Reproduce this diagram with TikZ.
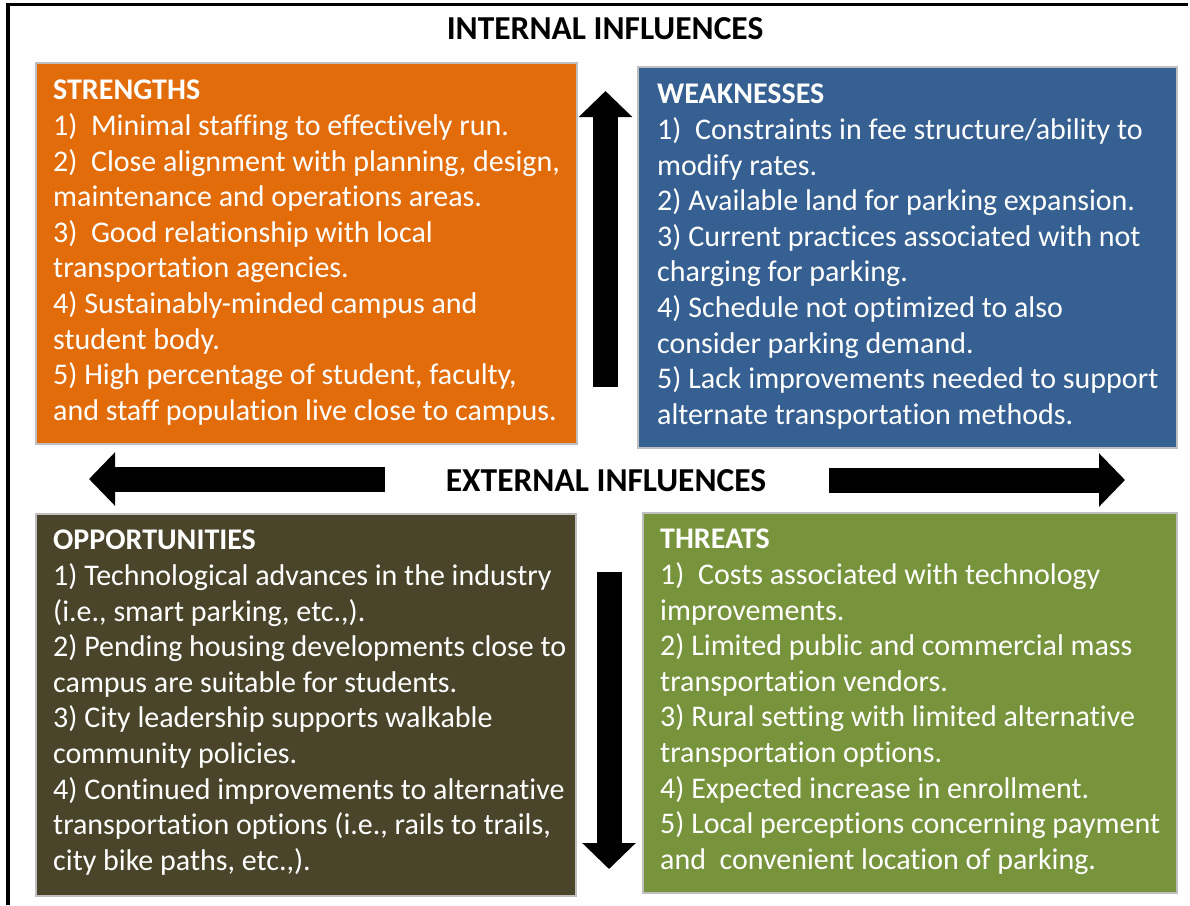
\documentclass[tikz,border=0pt]{standalone}
\usepackage{fontspec}
\setmainfont[Ligatures={TeX,NoCommon}]{Carlito}
\usepackage{xcolor}
\usepackage{tikz}
\usetikzlibrary{positioning,calc,arrows.meta}

\definecolor{swotorange}{HTML}{E36C0A}
\definecolor{swotblue}{HTML}{366092}
\definecolor{swotolive}{HTML}{4A452A}
\definecolor{swotgreen}{HTML}{77933C}
\definecolor{swotedge}{HTML}{BFBFBF}

\begin{document}
\begin{tikzpicture}[
                x=1pt, y=-1pt,
                quad_box/.style={draw=swotedge, line width=2pt, anchor=north west, inner sep=0pt},
                item_text/.style={anchor=north west, inner sep=0pt, align=left, text=white,
                    font={\fontsize{30}{35.6}\selectfont}},
                title_text/.style={font={\fontsize{33.5}{40}\selectfont\bfseries}},
                big_arrow/.style={draw=black, line width=25pt, -{Triangle[length=26pt,width=52pt]}}
            ]
                \useasboundingbox (0,0) rectangle (1190,905);

                % --- FRAME ---
                \draw[line width=3.5pt] (8,905) -- (8,4.5) -- (1188,4.5);

                % --- HEADINGS ---
                \node[title_text] (internal) at (605,29) {INTERNAL INFLUENCES};
                \node[title_text] (external) at (606,481) {EXTERNAL INFLUENCES};

                % --- STRENGTHS ---
                \node[quad_box, fill=swotorange, minimum width=541pt, minimum height=381pt] (strengths) at (35,62) {};
                \node[item_text] (strengths_text) at ([xshift=18pt, yshift=-18pt]strengths.north west)
                    {\textbf{STRENGTHS}\\
                     1)~~Minimal staffing to effectively run.\\
                     2)~~Close alignment with planning, design,\\
                     maintenance and operations areas.\\
                     3)~~Good relationship with local\\
                     transportation agencies.\\
                     4) Sustainably-minded campus and\\
                     student body.\\
                     5) High percentage of student, faculty,\\
                     and staff population live close to campus.};

                % --- WEAKNESSES ---
                \node[quad_box, fill=swotblue, minimum width=539pt, minimum height=381pt] (weaknesses) at (637,66) {};
                \node[item_text] (weaknesses_text) at ([xshift=20pt, yshift=-18pt]weaknesses.north west)
                    {\textbf{WEAKNESSES}\\
                     1)~~Constraints in fee structure/ability to\\
                     modify rates.\\
                     2) Available land for parking expansion.\\
                     3) Current practices associated with not\\
                     charging for parking.\\
                     4) Schedule not optimized to also\\
                     consider parking demand.\\
                     5) Lack improvements needed to support\\
                     alternate transportation methods.};

                % --- OPPORTUNITIES ---
                \node[quad_box, fill=swotolive, minimum width=540pt, minimum height=382pt] (opportunities) at (35,513) {};
                \node[item_text] (opportunities_text) at ([xshift=18pt, yshift=-17pt]opportunities.north west)
                    {\textbf{OPPORTUNITIES}\\
                     1) Technological advances in the industry\\
                     (i.e., smart parking, etc.,).\\
                     2) Pending housing developments close to\\
                     campus are suitable for students.\\
                     3) City leadership supports walkable\\
                     community policies.\\
                     4) Continued improvements to alternative\\
                     transportation options (i.e., rails to trails,\\
                     city bike paths, etc.,).};

                % --- THREATS ---
                \node[quad_box, fill=swotgreen, minimum width=534pt, minimum height=380pt] (threats) at (642,512) {};
                \node[item_text] (threats_text) at ([xshift=18pt, yshift=-17pt]threats.north west)
                    {\textbf{THREATS}\\
                     1)~~Costs associated with technology\\
                     improvements.\\
                     2) Limited public and commercial mass\\
                     transportation vendors.\\
                     3) Rural setting with limited alternative\\
                     transportation options.\\
                     4) Expected increase in enrollment.\\
                     5) Local perceptions concerning payment\\
                     and~~convenient location of parking.};

                % --- ARROWS ---
                \coordinate (up_tail) at (605.5,387);
                \coordinate (up_tip) at (605.5,91);
                \coordinate (down_tail) at (609,572);
                \coordinate (down_tip) at (609,869);
                \coordinate (left_tail) at (385,479);
                \coordinate (left_tip) at (89,479);
                \coordinate (right_tail) at (829,480);
                \coordinate (right_tip) at (1125,480);

                \draw[big_arrow] (up_tail) -- (up_tip);
                \draw[big_arrow] (down_tail) -- (down_tip);
                \draw[big_arrow] (left_tail) -- (left_tip);
                \draw[big_arrow] (right_tail) -- (right_tip);

            \end{tikzpicture}
\end{document}
